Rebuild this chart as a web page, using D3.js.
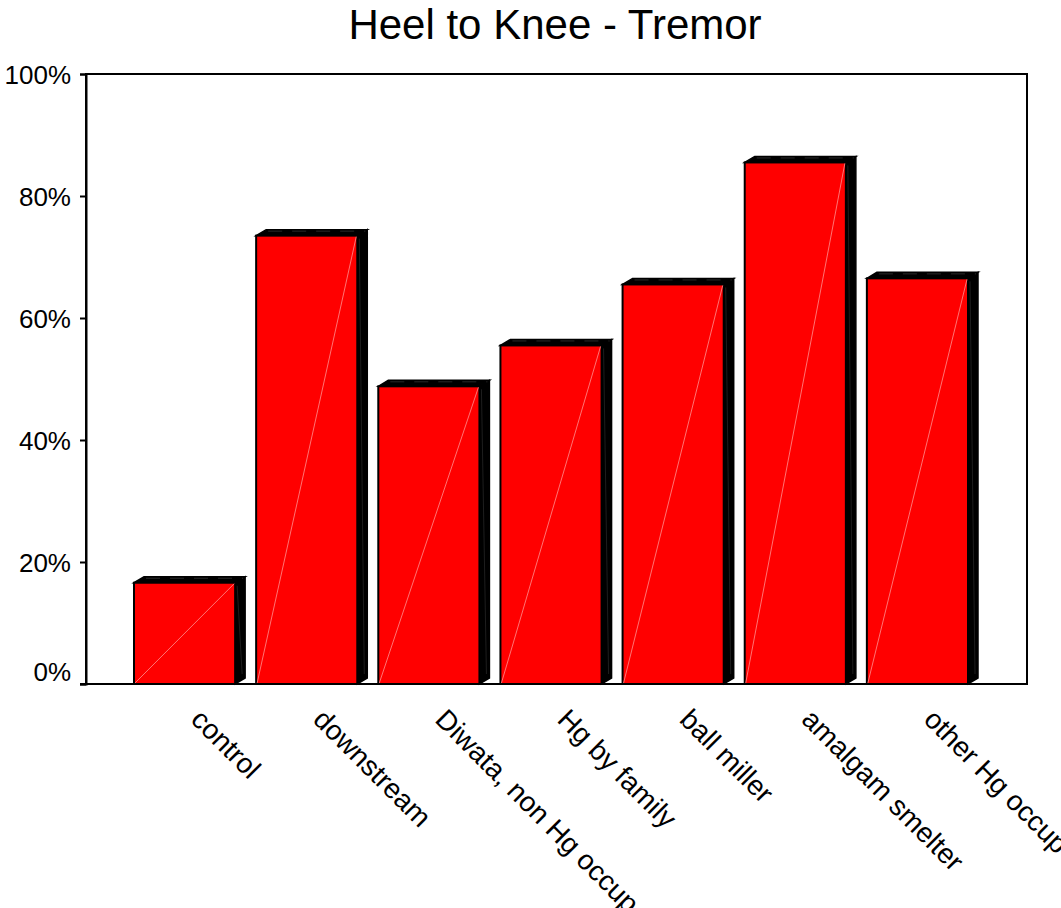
<!DOCTYPE html>
<html><head><meta charset="utf-8">
<script src="https://cdn.jsdelivr.net/npm/d3@7"></script>
<style>body{margin:0;background:#fff}svg{display:block}text{font-family:Arial,"Liberation Sans",sans-serif;fill:#000}</style>
</head><body>
<svg id="c" width="1061" height="908"></svg>
<script>
const title = "Heel to Knee - Tremor";
const categories = ["control","downstream","Diwata, non Hg occup","Hg by family","ball miller","amalgam smelter","other Hg occup"];
const values = [0.166, 0.735, 0.488, 0.555, 0.655, 0.855, 0.665];
const yTicks = [0, 0.2, 0.4, 0.6, 0.8, 1.0];

const svg = d3.select("#c");
const plot = {left: 86, right: 1027, top: 74, bottom: 684};
const depthX = 10, depthY = 6;

const y = d3.scaleLinear().domain([0, 1]).range([plot.bottom, plot.top]);
const x = d3.scaleBand().domain(categories).range([134, 968]).paddingInner(0.172).paddingOuter(0);

// title
svg.append("text").attr("x", 555).attr("y", 39)
  .attr("text-anchor", "middle").style("font-size", "42px").text(title);

// frame
svg.append("rect").attr("x", plot.left).attr("y", plot.top)
  .attr("width", plot.right - plot.left).attr("height", plot.bottom - plot.top)
  .attr("fill", "none").attr("stroke", "#000").attr("stroke-width", 2);

// y axis
const yAxis = svg.append("g").attr("transform", `translate(${plot.left},0)`)
  .call(d3.axisLeft(y).tickValues(yTicks).tickFormat(d3.format(".0%")).tickSize(6).tickPadding(10));
yAxis.select(".domain").attr("stroke-width", 2);
yAxis.selectAll(".tick line").attr("stroke-width", 2);
yAxis.selectAll(".tick text")
  .attr("x", -15)
  .attr("dy", d => d === 0 ? "-0.15em" : "0.38em")
  .style("font-size", "26px").attr("font-family", null);

// bars
const bars = svg.append("g").selectAll("g").data(categories).join("g");
bars.each(function(c, i) {
  const g = d3.select(this);
  const x0 = x(c), x1 = x(c) + x.bandwidth();
  const yt = y(values[i]), yb = y(0);
  g.append("path").attr("d", `M${x1},${yt}L${x1+depthX},${yt-depthY}L${x1+depthX},${yb-depthY}L${x1},${yb}Z`)
    .attr("fill", "#000").attr("stroke", "#000").attr("stroke-width", 1.5);
  g.append("path").attr("d", `M${x0},${yt}L${x0+depthX},${yt-depthY}L${x1+depthX},${yt-depthY}L${x1},${yt}Z`)
    .attr("fill", "#000").attr("stroke", "#000").attr("stroke-width", 1.5);
  g.append("path").attr("d", `M${x0+depthX+2},${yt-depthY+1.5}L${x1+depthX-2},${yt-depthY+1.5}`)
    .attr("stroke", "#444").attr("stroke-width", 0.6).attr("stroke-dasharray", "14,10");
  g.append("path").attr("d", `M${x1+2},${yt+3}L${x1+depthX-3},${yb-depthY-4}`)
    .attr("stroke", "#333").attr("stroke-width", 0.6);
  g.append("rect").attr("x", x0).attr("y", yt).attr("width", x1 - x0).attr("height", yb - yt)
    .attr("fill", "#ff0000").attr("stroke", "#000").attr("stroke-width", 2);
  g.append("line").attr("x1", x0 + 1).attr("y1", yb - 1).attr("x2", x1 - 1).attr("y2", yt + 1)
    .attr("stroke", "#ff9090").attr("stroke-width", 0.8);
});

svg.append("line").attr("x1", plot.left - 6).attr("x2", plot.right).attr("y1", plot.bottom).attr("y2", plot.bottom)
  .attr("stroke", "#000").attr("stroke-width", 2);

// x labels
svg.append("g").selectAll("text").data(categories).join("text")
  .attr("transform", d => `translate(${x(d) + x.bandwidth()/2 + 5},${plot.bottom + 37}) rotate(45)`)
  .attr("text-anchor", "start").style("font-size", "28px").text(d => d);
</script>
</body></html>
